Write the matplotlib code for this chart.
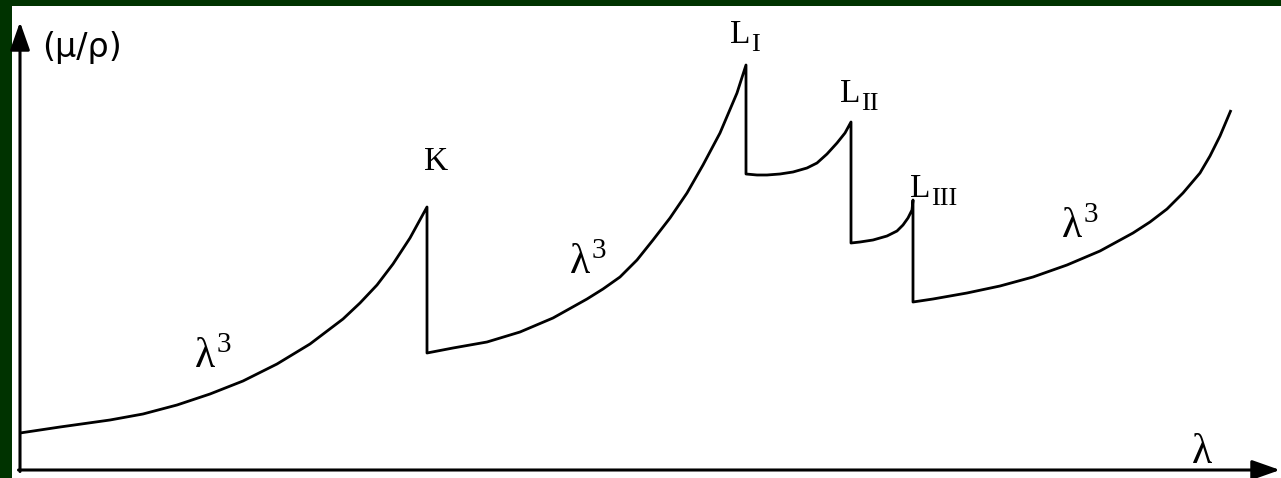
"""
X-ray mass absorption coefficient vs wavelength, with K and L absorption edges
"""
import matplotlib
matplotlib.use("Agg")
import matplotlib.pyplot as plt
import numpy as np

# absorption branches between edges (arbitrary units, lambda increasing)
lam_seg1 = [0, 40, 90, 123, 157, 190, 223, 257, 290, 323, 340, 357, 373, 390, 407]
mu_seg1 = [37, 43, 50, 56, 65, 76, 89, 106, 126, 151, 167, 185, 206, 232, 263]

lam_seg2 = [407, 433, 467, 500, 533, 567, 583, 600, 617, 633, 650, 667, 683, 700, 717, 726]
mu_seg2 = [117, 122, 128, 138, 152, 171, 181, 193, 210, 230, 252, 277, 305, 337, 377, 405]

lam_seg3 = [726, 737, 747, 760, 773, 787, 797, 807, 817, 825, 831]
mu_seg3 = [296, 295, 295, 296, 298, 302, 307, 316, 327, 337, 348]

lam_seg4 = [831, 840, 853, 867, 877, 883, 888, 892, 893]
mu_seg4 = [227, 228, 230, 234, 239, 245, 252, 260, 270]

lam_seg5 = [893, 913, 947, 980, 1013, 1047, 1080, 1113, 1130, 1147, 1163, 1180, 1190, 1200, 1211]
mu_seg5 = [168, 171, 177, 184, 193, 205, 219, 237, 248, 261, 277, 297, 314, 334, 360]

# edge names: main letter, subscript
edge_names = [("K", ""), ("L", "I"), ("L", "II"), ("L", "III")]
edge_label_pos = [(404, 300), (710, 427), (820, 368), (890, 273)]

# lambda^3 annotations
law_label_pos = [(175, 103), (550, 197), (1042, 233)]

LINE = "black"
BORDER = "#003300"
SERIF = ["Liberation Serif", "DejaVu Serif"]

fig = plt.figure(figsize=(12.81, 4.78), dpi=100)
fig.patch.set_facecolor(BORDER)
ax = fig.add_axes([12 / 1281, 0, 1269 / 1281, 472 / 478])
ax.set_facecolor("white")
ax.set_xlim(-8, 1261)
ax.set_ylim(-8, 464)
ax.set_xticks([])
ax.set_yticks([])
for spine in ax.spines.values():
    spine.set_visible(False)

# axes with arrow heads
arrow = dict(arrowstyle="-|>,head_length=0.85,head_width=0.3", lw=2.2,
             color=LINE, mutation_scale=20, shrinkA=0, shrinkB=0)
ax.annotate("", xy=(0, 448), xytext=(0, -1.5), arrowprops=arrow)
ax.annotate("", xy=(1260, 0), xytext=(-1.5, 0), arrowprops=arrow)

# the whole curve, vertical jumps at each edge
lam = np.concatenate([lam_seg1, lam_seg2, lam_seg3, lam_seg4, lam_seg5])
mu = np.concatenate([mu_seg1, mu_seg2, mu_seg3, mu_seg4, mu_seg5])
ax.plot(lam, mu, color=LINE, lw=2.0, solid_joinstyle="round",
        solid_capstyle="butt")

# edge labels
for (main, sub), (x, y) in zip(edge_names, edge_label_pos):
    ax.text(x, y, main, family=SERIF, fontsize=24, ha="left",
            va="baseline", color=LINE)
    if sub:
        ax.text(x + 21, y - 8, sub, family=SERIF, fontsize=19, ha="left",
                va="baseline", color=LINE)

for x, y in law_label_pos:
    ax.text(x, y, "\u03bb", family=SERIF, fontsize=30, ha="left",
            va="baseline", color=LINE)
    ax.text(x + 22, y + 15, "3", family=SERIF, fontsize=21, ha="left",
            va="baseline", color=LINE)

# axis labels
ax.text(1172, 7, "\u03bb", family=SERIF, fontsize=30, ha="left",
        va="baseline", color=LINE)
ax.text(22, 422, "(\u03bc/\u03c1)", family="DejaVu Sans", fontsize=24,
        ha="left", va="center", color=LINE)

fig.savefig("out.png", dpi=100)
